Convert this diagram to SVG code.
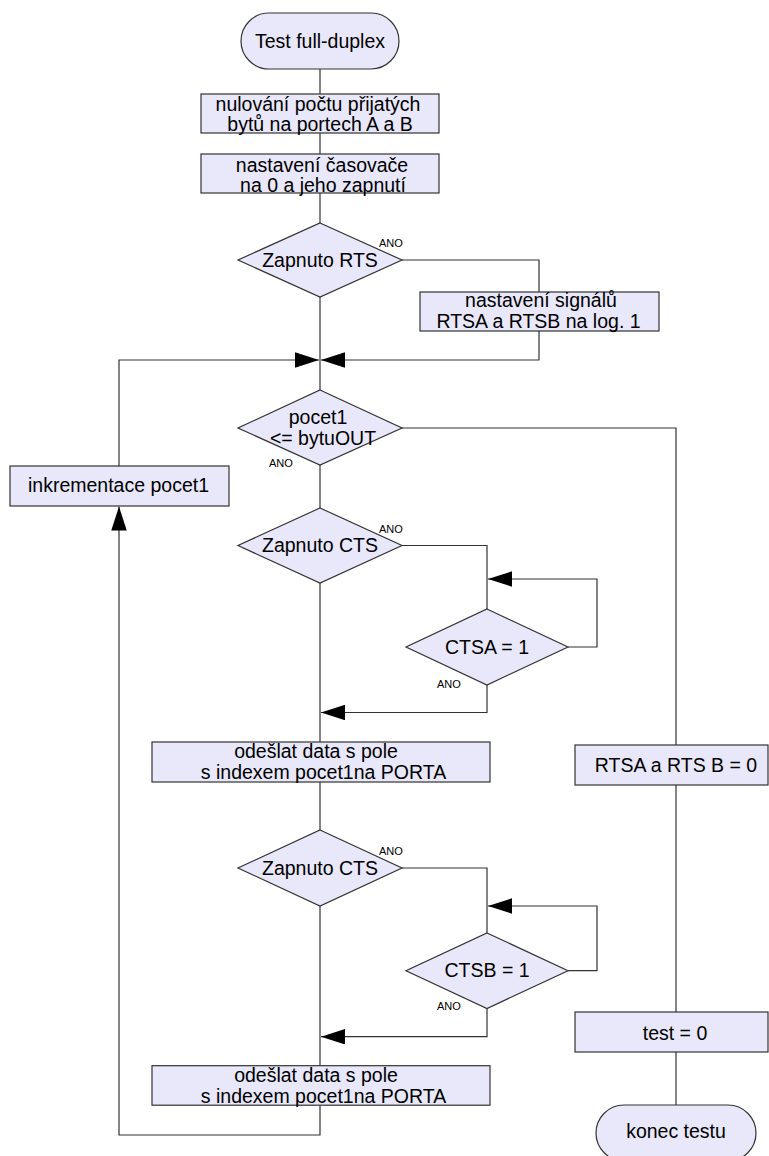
<svg xmlns="http://www.w3.org/2000/svg" width="769" height="1156" viewBox="0 0 769 1156">
  <style>
    .shape { fill: #e8e8fa; stroke: #333333; stroke-width: 1.2; }
    .txt { font-family: "Liberation Sans", Arial, sans-serif; font-size: 19.5px; fill: #000000; text-anchor: middle; }
    .ano { font-family: "Liberation Sans", Arial, sans-serif; font-size: 11px; fill: #000000; }
    .wire { fill: none; stroke: #333333; stroke-width: 1.2; }
    .arr { fill: none; stroke: #333333; stroke-width: 1.2; marker-end: url(#head); }
  </style>
  <defs>
    <marker id="head" markerUnits="userSpaceOnUse" markerWidth="24" markerHeight="16" refX="24" refY="7.75" orient="auto">
      <path d="M0,0 L24,7.75 L0,15.5 Z" fill="#000000"/>
    </marker>
  </defs>
  <rect width="769" height="1156" fill="#ffffff"/>

  <!-- connectors -->
  <g id="connectors">
    <path class="wire" d="M320,69 V94"/>
    <path class="wire" d="M320,133 V154"/>
    <path class="wire" d="M320,193 V223"/>
    <path class="wire" d="M402,260 H539 V292"/>
    <path class="arr" d="M539,331 V360 H321"/>
    <path class="wire" d="M320,297 V390"/>
    <path class="arr" d="M119,466 V360 H319"/>
    <path class="wire" d="M320,465 V508"/>
    <path class="wire" d="M402,428 H676 V745"/>
    <path class="wire" d="M676,785 V1012"/>
    <path class="wire" d="M676,1052 V1105"/>
    <path class="wire" d="M402,545.5 H487 V609"/>
    <path class="arr" d="M568,647 H597 V579 H488"/>
    <path class="arr" d="M487,685 V712.5 H321"/>
    <path class="wire" d="M320,583 V742"/>
    <path class="wire" d="M320,782 V830"/>
    <path class="wire" d="M402,868 H487 V933"/>
    <path class="arr" d="M568,970.7 H597 V906 H488"/>
    <path class="arr" d="M487,1008.5 V1036.7 H321"/>
    <path class="wire" d="M320,906 V1065.7"/>
    <path class="arr" d="M320,1105 V1135 H119 V506.5"/>
  </g>

  <!-- start terminal -->
  <g id="start">
    <rect class="shape" x="241" y="13" width="158" height="56" rx="28" ry="28"/>
    <text class="txt" x="320" y="48">Test full-duplex</text>
  </g>

  <g id="reset-counters">
    <rect class="shape" x="201" y="94" width="238" height="39"/>
    <text class="txt" x="318" y="110.5">nulování počtu přijatých</text>
    <text class="txt" x="320" y="131">bytů na portech A a B</text>
  </g>

  <g id="timer-start">
    <rect class="shape" x="201" y="154" width="238" height="39"/>
    <text class="txt" x="322" y="171.5">nastavení časovače</text>
    <text class="txt" x="323" y="192">na 0 a jeho zapnutí</text>
  </g>

  <g id="rts-on">
    <polygon class="shape" points="320,223 402,260 320,297 238,260"/>
    <text class="txt" x="320" y="266.5">Zapnuto RTS</text>
    <text class="ano" x="379" y="246.5">ANO</text>
  </g>

  <g id="rts-set">
    <rect class="shape" x="420" y="292" width="239" height="39"/>
    <text class="txt" x="541" y="307">nastavení signálů</text>
    <text class="txt" x="538.5" y="327.5">RTSA a RTSB na log. 1</text>
  </g>

  <g id="count-check">
    <polygon class="shape" points="320,390 402,428 320,465 238,428"/>
    <text class="txt" x="318" y="424">pocet1</text>
    <text class="txt" x="323" y="444.5">&lt;= bytuOUT</text>
    <text class="ano" x="269" y="466.5">ANO</text>
  </g>

  <g id="increment">
    <rect class="shape" x="10" y="466" width="219" height="40"/>
    <text class="txt" x="118.5" y="492">inkrementace pocet1</text>
  </g>

  <g id="cts-on-a">
    <polygon class="shape" points="320,508 402,545.5 320,583 238,545.5"/>
    <text class="txt" x="320" y="552">Zapnuto CTS</text>
    <text class="ano" x="379" y="532.5">ANO</text>
  </g>

  <g id="ctsa-wait">
    <polygon class="shape" points="487,609 568,647 487,685 406,647"/>
    <text class="txt" x="487" y="653.5">CTSA = 1</text>
    <text class="ano" x="437" y="687.5">ANO</text>
  </g>

  <g id="send-a">
    <rect class="shape" x="152" y="742" width="338" height="40"/>
    <text class="txt" x="316" y="758">odešlat data s pole</text>
    <text class="txt" x="323.5" y="779">s indexem pocet1na PORTA</text>
  </g>

  <g id="rts-clear">
    <rect class="shape" x="575" y="745" width="193" height="40"/>
    <text class="txt" x="676" y="771.5">RTSA a RTS B = 0</text>
  </g>

  <g id="cts-on-b">
    <polygon class="shape" points="320,830 402,868 320,906 238,868"/>
    <text class="txt" x="320" y="874.5">Zapnuto CTS</text>
    <text class="ano" x="379" y="855">ANO</text>
  </g>

  <g id="ctsb-wait">
    <polygon class="shape" points="487,933 568,970.7 487,1008.5 406,970.7"/>
    <text class="txt" x="487" y="977">CTSB = 1</text>
    <text class="ano" x="437" y="1010">ANO</text>
  </g>

  <g id="send-b">
    <rect class="shape" x="152" y="1065.7" width="338" height="39.5"/>
    <text class="txt" x="316" y="1081.5">odešlat data s pole</text>
    <text class="txt" x="323.5" y="1103">s indexem pocet1na PORTA</text>
  </g>

  <g id="test-reset">
    <rect class="shape" x="575" y="1012" width="193" height="40"/>
    <text class="txt" x="675" y="1039.5">test = 0</text>
  </g>

  <g id="end">
    <rect class="shape" x="596" y="1105" width="160" height="56" rx="28" ry="28"/>
    <text class="txt" x="676" y="1138">konec testu</text>
  </g>
</svg>
